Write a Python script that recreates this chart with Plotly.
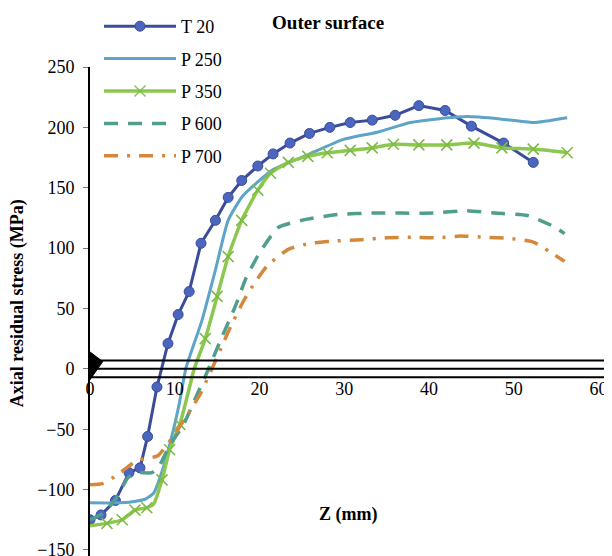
import plotly.graph_objects as go

# ---------------- data ----------------
t20_z = [0, 1.3, 3.0, 4.6, 5.9, 6.8, 7.9, 9.2, 10.4, 11.7, 13.1, 14.8, 16.3, 17.9, 19.8,
         21.6, 23.6, 25.9, 28.3, 30.7, 33.3, 36.0, 38.8, 41.9, 45.0, 48.8, 52.3]
t20_s = [-125, -121, -109, -86, -82, -56, -15, 21, 45, 64, 104, 123, 142, 156, 168,
         178, 187, 195, 200, 204, 206, 210, 218, 214, 201, 187, 171]

p250_z = [0, 3, 5, 6.5, 7.5, 8.5, 9.5, 10.5, 11.3, 13.2, 14.8, 16.3, 18.0, 21.6, 25.6,
          29.9, 33.9, 37.8, 41.0, 44.5, 48.4, 52.3, 56.3]
p250_s = [-111, -111, -110, -108, -103, -85, -60, -30, 0, 40, 82, 123, 143, 165, 177,
          190, 196, 204, 207, 209, 207, 204, 208]

p350_z = [0, 2.0, 3.8, 5.3, 6.7, 7.5, 8.5, 9.4, 10.6, 11.5, 12.3, 13.6, 15.0, 16.3, 17.9,
          19.8, 21.3, 23.4, 25.7, 28.0, 30.7, 33.3, 35.8, 38.8, 42.1, 45.3, 48.6, 52.3, 56.3]
p350_s = [-130, -128, -125, -117, -115, -112, -92, -67, -46, -22, 0, 25, 60, 93, 123,
          148, 162, 171, 176, 179, 181, 183, 186, 185.5, 185.5, 187, 183, 182, 179]
p350_marks = [False, True, True, True, True, False, True, True, True, False, False, True, True, True, True,
              True, True, True, True, True, True, True, True, True, True, True, True, True, True]

p600_z = [0, 1.5, 3.0, 4.5, 5.5, 7.3, 8.2, 9.5, 10.9, 12.4, 13.8, 15.6, 17.1, 18.4, 20.0,
          22.2, 25.6, 29.5, 33.3, 36.8, 40.5, 44.3, 47.8, 51.6, 54.7, 56.0]
p600_s = [-125, -120, -108, -90, -86, -86, -80, -62, -48, -25, -3, 27, 51, 75, 96,
          117, 124, 128, 129, 129, 129, 131, 129, 127, 118, 112]

p700_z = [0, 1.5, 3.2, 5.5, 8.0, 9.6, 11.5, 13.0, 14.0, 15.4, 16.6, 18.1, 19.5, 21.0,
          23.4, 26.0, 29.2, 32.0, 35.0, 38.0, 40.8, 43.7, 46.6, 49.5, 52.3, 54.9, 56.0]
p700_s = [-96, -95, -88, -76, -72, -58, -38, -21, -6, 16, 35, 56, 72, 86,
          99, 104, 106, 107, 108.5, 109, 108.5, 110, 109, 108, 105, 94, 89]

x_ticks = [0, 10, 20, 30, 40, 50, 60]
y_ticks = [-150, -100, -50, 0, 50, 100, 150, 200, 250]

title_text = "Outer surface"
x_title = "Z (mm)"
y_title = "Axial residual stress (MPa)"

# ---------------- figure ----------------
# (the page body adds an 8 px margin, so the figure is 604x548 to fill the 612x556 window)
SERIF = "Liberation Serif, Times New Roman, serif"
FS = 18
fig = go.Figure()

fig.add_trace(go.Scatter(
    x=t20_z, y=t20_s, name="T 20", mode="lines+markers", legendgroup="a",
    line=dict(color="#3B4C9B", width=3),
    marker=dict(symbol="circle", size=10, color="#4A66BE", line=dict(color="#3B4C9B", width=1)),
))
fig.add_trace(go.Scatter(
    x=p250_z, y=p250_s, name="P 250", mode="lines", legendgroup="b",
    line=dict(color="#5EA4C6", width=3, shape="spline", smoothing=0.5),
))
fig.add_trace(go.Scatter(
    x=p350_z, y=p350_s, name="P 350", mode="lines+markers", legendgroup="c",
    line=dict(color="#8CC84E", width=3.5, shape="spline", smoothing=0.5),
    marker=dict(symbol="x-thin", size=11, line=dict(color="#7DBB45", width=1.6),
                opacity=[1 if m else 0 for m in p350_marks]),
))
fig.add_trace(go.Scatter(
    x=p600_z, y=p600_s, name="P 600", mode="lines", legendgroup="d",
    line=dict(color="#4F9E8E", width=3.5, dash="14px,10px", shape="spline", smoothing=0.5),
))
fig.add_trace(go.Scatter(
    x=p700_z, y=p700_s, name="P 700", mode="lines", legendgroup="e",
    line=dict(color="#D4883C", width=3.5, dash="14px,9px,3px,9px", shape="spline", smoothing=0.5),
))

# x-axis drawn as a boxed band at zero, with a marker triangle at the origin (as in the reference)
fig.add_shape(type="rect", xref="x", yref="y", x0=0.2, x1=60.8, y0=-7, y1=7,
              line=dict(color="black", width=2), fillcolor="rgba(0,0,0,0)", layer="above")
fig.add_shape(type="line", xref="x", yref="y", x0=0.2, x1=60.8, y0=0, y1=0,
              line=dict(color="black", width=2), layer="above")
fig.add_shape(type="path", xref="x", yref="y", path="M 0,14 L 1.5,6 L 0,-9 Z",
              fillcolor="black", line=dict(color="black", width=1), layer="above")

fig.add_annotation(text="<b>%s</b>" % x_title, xref="paper", yref="paper",
                   x=0.4995, y=0.084, xanchor="center", yanchor="middle", showarrow=False,
                   font=dict(family=SERIF, size=FS, color="black"))
fig.add_annotation(text="<b>%s</b>" % y_title, xref="paper", yref="paper",
                   x=-0.1413, y=0.517, xanchor="center", yanchor="middle",
                   showarrow=False, textangle=-90,
                   font=dict(family=SERIF, size=FS, color="black"))

fig.update_layout(
    width=604, height=548,
    margin=dict(l=82, r=5, t=59, b=0, autoexpand=False),
    paper_bgcolor="white", plot_bgcolor="white",
    font=dict(family=SERIF, size=FS, color="black"),
    title=dict(text="<b>%s</b>" % title_text, x=0.53, xanchor="center",
               y=0.9745, yanchor="middle", yref="container",
               font=dict(family=SERIF, size=19, color="black")),
    showlegend=True,
    legend=dict(xref="container", yref="container", x=0.1507, xanchor="left",
                y=1.0055, yanchor="top",
                font=dict(family=SERIF, size=FS, color="black"),
                bgcolor="rgba(255,255,255,0)", tracegroupgap=6, itemwidth=72),
    xaxis=dict(range=[0, 61], tickvals=x_ticks, ticks="", showline=False, showgrid=False,
               zeroline=False, anchor="free", position=0.3827, ticklabeloverflow="allow",
               ticklabelstandoff=7,
               tickfont=dict(family=SERIF, size=FS, color="black")),
    yaxis=dict(range=[-155, 250], tickvals=y_ticks, showgrid=False, zeroline=False,
               showline=True, linecolor="black", linewidth=2, ticklabeloverflow="allow",
               ticks="outside", ticklen=5, tickcolor="#777", tickwidth=1,
               ticklabelstandoff=5,
               tickfont=dict(family=SERIF, size=FS, color="black")),
)

fig.write_html("out.html")
